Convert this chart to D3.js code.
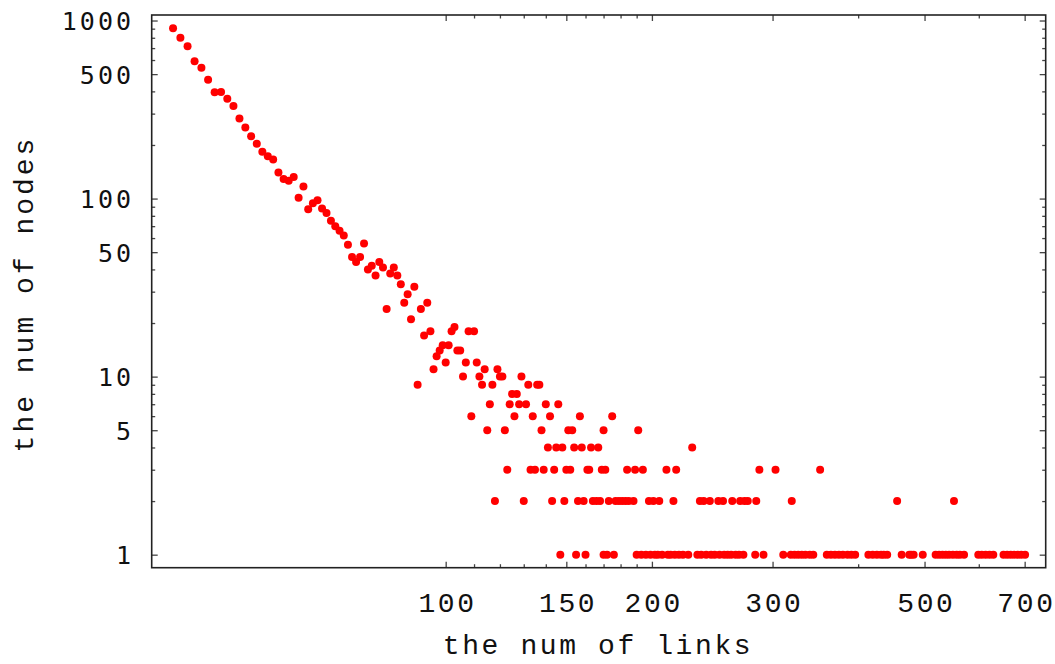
<!DOCTYPE html>
<html lang="en">

<head>
    <meta charset="UTF-8">
    <title>links vs nodes</title>
    <style>
        body { margin: 0; background: #fff; }
    </style>
</head>

<body>
    <script src="https://d3js.org/d3.v7.min.js"></script>
    <div id="chart"></div>
    <script>
        // one point per link count from 40 to 120
        const headLinks = [40, 41, 42, 43, 44, 45, 46, 47, 48, 49, 50, 51, 52, 53, 54, 55, 56, 57, 58, 59,
            60, 61, 62, 63, 64, 65, 66, 67, 68, 69, 70, 71, 72, 73, 74, 75, 76, 77, 78, 79,
            80, 81, 82, 83, 84, 85, 86, 87, 88, 89, 90, 91, 92, 93, 94, 95, 96, 97, 98, 99,
            100, 101, 102, 103, 104, 105, 106, 107, 108, 109, 110, 111, 112, 113, 114, 115, 116, 117, 118, 119, 120]
        const headNodes = [904, 800, 716, 590, 543, 465, 395, 397, 364, 331, 282, 251, 224, 203, 183, 173, 166, 140, 129, 126,
            132, 101, 117, 87, 94, 98, 88, 83, 75, 70, 66, 62, 55, 47, 44, 47, 56, 40, 42, 37,
            44, 41, 24, 38, 41, 37, 33, 26, 29, 21, 32, 9, 24, 17, 26, 18, 11, 13, 14, 15,
            12, 15, 18, 19, 14, 14, 10, 12, 18, 6, 18, 12, 10, 9, 11, 5, 7, 9, 2, 11, 10]

        // tail: link counts seen at each small node count
        const tailLevels = [1, 2, 3, 4, 5, 6, 7, 8, 9, 10]
        const tailLinks = [
            [147, 155, 160, 170, 172, 176, 190, 193, 196, 199, 202, 204, 207, 211, 213, 216, 219, 222, 226,
                233, 236, 240, 244, 247, 251, 255, 258, 261, 265, 268, 272, 283, 291, 311, 319, 323, 327, 331,
                335, 340, 344, 360, 365, 370, 375, 380, 386, 391, 396, 414, 420, 426, 432, 436, 441, 463, 475,
                478, 482, 497, 519, 525, 531, 537, 543, 550, 557, 563, 571, 599, 606, 614, 622, 630, 652, 660,
                668, 676, 684, 692, 701],
            [130, 143, 149, 156, 159, 164, 166, 168, 173, 177, 179, 181, 183, 185, 188, 198, 201, 205, 215,
                235, 238, 243, 250, 254, 262, 269, 273, 276, 284, 320, 456, 552],
            [123, 133, 135, 139, 144, 150, 152, 161, 162, 169, 171, 184, 189, 194, 210, 217, 287, 303, 352],
            [141, 145, 148, 154, 158, 163, 167, 229],
            [122, 138, 151, 153, 170, 191],
            [126, 134, 142, 157, 175],
            [124, 128, 131, 140, 146],
            [125, 127],
            [132, 136, 137],
            [121, 129]
        ]

        const xMajor = [100, 150, 200, 300, 500, 700]
        const xMinor = [110, 120, 130, 140, 160, 170, 180, 190, 400, 600]
        const yMajor = [1, 5, 10, 50, 100, 500, 1000]
        const yMinor = [2, 3, 4, 6, 7, 8, 9, 20, 30, 40, 60, 70, 80, 90, 200, 300, 400, 600, 700, 800, 900]

        const W = 1055, H = 664
        const L = 151.7, R = 1045.7, T = 15, B = 567.7

        const svg = d3.select("#chart")
            .append("svg")
            .attr("width", W)
            .attr("height", H)

        svg.append("rect").attr("width", W).attr("height", H).attr("fill", "#fff")

        const x = d3.scaleLog()
            .domain([37.23, 751.3])
            .range([L, R])

        const y = d3.scaleLog()
            .domain([0.845, 1074])
            .range([B, T])

        const points = []
        headLinks.forEach((d, i) => points.push({ links: d, nodes: headNodes[i] }))
        tailLevels.forEach((lv, i) => tailLinks[i].forEach(d => points.push({ links: d, nodes: lv })))

        // ticks on all four sides, pointing inward
        const tickColor = "#444"
        const addAxis = (axis, tx, ty, cls) => {
            const g = svg.append("g")
                .attr("class", cls)
                .attr("transform", `translate(${tx}, ${ty})`)
                .call(axis)
            g.select(".domain").remove()
            g.selectAll("line").attr("stroke", tickColor).attr("stroke-width", 1.3)
            return g
        }

        const xb = addAxis(d3.axisBottom(x).tickValues(xMajor).tickSize(-6).tickFormat(d3.format("d")), 0, B, "x axis")
        addAxis(d3.axisBottom(x).tickValues(xMinor).tickSize(-3.5).tickFormat(""), 0, B, "x minor")
        addAxis(d3.axisTop(x).tickValues(xMajor).tickSize(-6).tickFormat(""), 0, T, "x top")
        addAxis(d3.axisTop(x).tickValues(xMinor).tickSize(-3.5).tickFormat(""), 0, T, "x top minor")

        const yl = addAxis(d3.axisLeft(y).tickValues(yMajor).tickSize(-6).tickFormat(d3.format("d")), L, 0, "y axis")
        addAxis(d3.axisLeft(y).tickValues(yMinor).tickSize(-3.5).tickFormat(""), L, 0, "y minor")
        addAxis(d3.axisRight(y).tickValues(yMajor).tickSize(-6).tickFormat(""), R, 0, "y right")
        addAxis(d3.axisRight(y).tickValues(yMinor).tickSize(-3.5).tickFormat(""), R, 0, "y right minor")

        xb.selectAll("text")
            .attr("y", 44)
            .attr("dy", 0)
            .attr("dx", 1.3)
            .attr("fill", "#111")
            .style("font-family", "'Liberation Mono', monospace")
            .style("font-size", "28px")
            .style("letter-spacing", "2.6px")

        yl.selectAll("text")
            .attr("x", -L + 134)
            .attr("dy", "0.36em")
            .attr("fill", "#111")
            .style("font-family", "'DejaVu Sans Mono', monospace")
            .style("font-size", "25px")
            .style("letter-spacing", "3px")

        // frame
        svg.append("rect")
            .attr("x", L)
            .attr("y", T)
            .attr("width", R - L)
            .attr("height", B - T)
            .attr("fill", "none")
            .attr("stroke", "#222")
            .attr("stroke-width", 1.6)

        svg.append("g")
            .selectAll("circle")
            .data(points)
            .join("circle")
            .attr("cx", d => x(d.links))
            .attr("cy", d => y(d.nodes))
            .attr("r", 4)
            .attr("fill", "#ff0000")

        svg.append("text")
            .attr("x", 598)
            .attr("y", 654)
            .attr("text-anchor", "middle")
            .attr("fill", "#111")
            .style("font-family", "'Liberation Mono', monospace")
            .style("font-size", "28px")
            .style("letter-spacing", "2.6px")
            .text("the num of links")

        svg.append("text")
            .attr("transform", "translate(33, 294) rotate(-90)")
            .attr("text-anchor", "middle")
            .attr("fill", "#111")
            .style("font-family", "'Liberation Mono', monospace")
            .style("font-size", "28px")
            .style("letter-spacing", "3px")
            .text("the num of nodes")
    </script>
</body>

</html>
